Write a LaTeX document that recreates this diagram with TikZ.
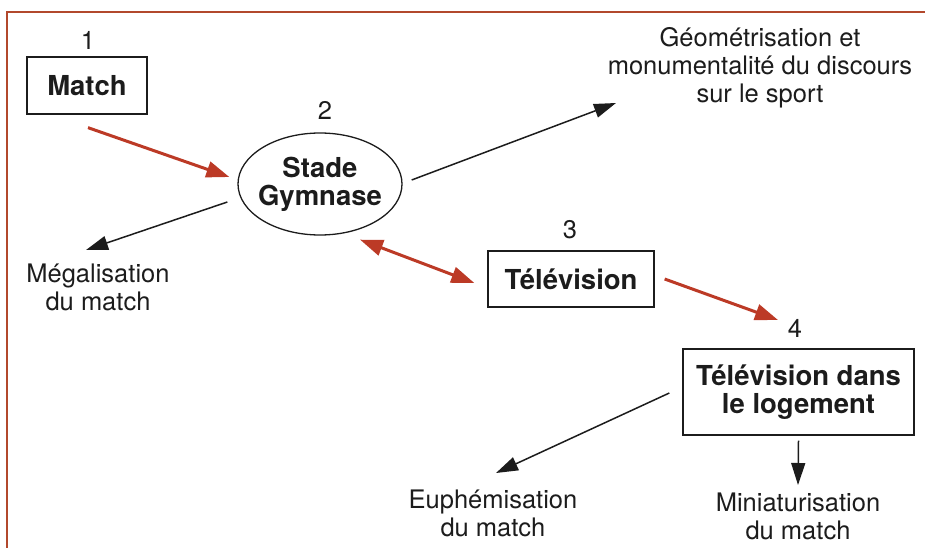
\documentclass[tikz,border=0pt]{standalone}
\usepackage{fontspec}
\setmainfont{TeX Gyre Heros}
\usetikzlibrary{shapes.geometric,arrows.meta}
\definecolor{brd}{RGB}{178,72,44}
\definecolor{redarr}{RGB}{188,58,38}
\definecolor{ink}{RGB}{28,28,28}
\tikzset{
  lbl/.style={text=ink,font=\fontsize{25.5}{28}\selectfont,align=center,inner sep=0pt},
  boxnode/.style={draw=ink,line width=1.3pt,text=ink,font=\fontsize{27.5}{28}\selectfont\bfseries,align=center,inner sep=0pt},
  redarrow/.style={draw=redarr,line width=3pt,-{Triangle[length=23pt,width=16pt]}},
  redboth/.style={draw=redarr,line width=3pt,{Triangle[length=23pt,width=16pt]}-{Triangle[length=23pt,width=16pt]}},
  blkarrow/.style={draw=ink,line width=1.5pt,-{Triangle[length=22pt,width=14pt]}},
}
\begin{document}
\begin{tikzpicture}[x=1pt,y=-1pt]
\useasboundingbox (0,0) rectangle (925,548);
\draw[brd,line width=2.8pt] (7,548) -- (7,12) -- (925,12);

\node[lbl] (n1) at (88,40) {1};
\node[boxnode,minimum width=120pt,minimum height=57pt] (match) at (87,85.5) {Match};
\node[lbl] (n2) at (325,110) {2};
\node[boxnode,ellipse,inner xsep=-20pt,inner ysep=-15pt,minimum width=164pt,minimum height=102pt] (stade) at (320,184) {Stade\\Gymnase};
\node[lbl] (geo) at (760,68) {Géométrisation et\\monumentalité du discours\\sur le sport};
\node[lbl] (mega) at (98,287) {Mégalisation\\du match};
\node[lbl] (n3) at (570,230) {3};
\node[boxnode,minimum width=166pt,minimum height=56pt] (tv) at (571,279) {Télévision};
\node[lbl] (n4) at (795,328) {4};
\node[boxnode,minimum width=231pt,minimum height=86pt] (tvl) at (798.5,392) {Télévision dans\\le logement};
\node[lbl] (eup) at (493,513) {Euphémisation\\du match};
\node[lbl] (mini) at (798,516) {Miniaturisation\\du match};

\coordinate (geoTip) at (616,103);
\coordinate (megaTip) at (86,250);
\coordinate (fourTip) at (778,320);
\coordinate (eupTip) at (496,473);
\coordinate (miniTip) at (798,485);

\draw[redarrow] ([shift={(1,13)}]match.south) -- ([shift={(-8,-7)}]stade.west);
\draw[blkarrow] ([shift={(9,-4)}]stade.east) -- (geoTip);
\draw[blkarrow] ([shift={(-10,18)}]stade.west) -- (megaTip);
\draw[redboth] ([shift={(40,4)}]stade.south) -- ([shift={(-13,4)}]tv.west);
\draw[redarrow] ([shift={(10,0)}]tv.east) -- (fourTip);
\draw[blkarrow] ([shift={(-13,1)}]tvl.west) -- (eupTip);
\draw[blkarrow] ([shift={(0,5)}]tvl.south) -- (miniTip);
\end{tikzpicture}
\end{document}
